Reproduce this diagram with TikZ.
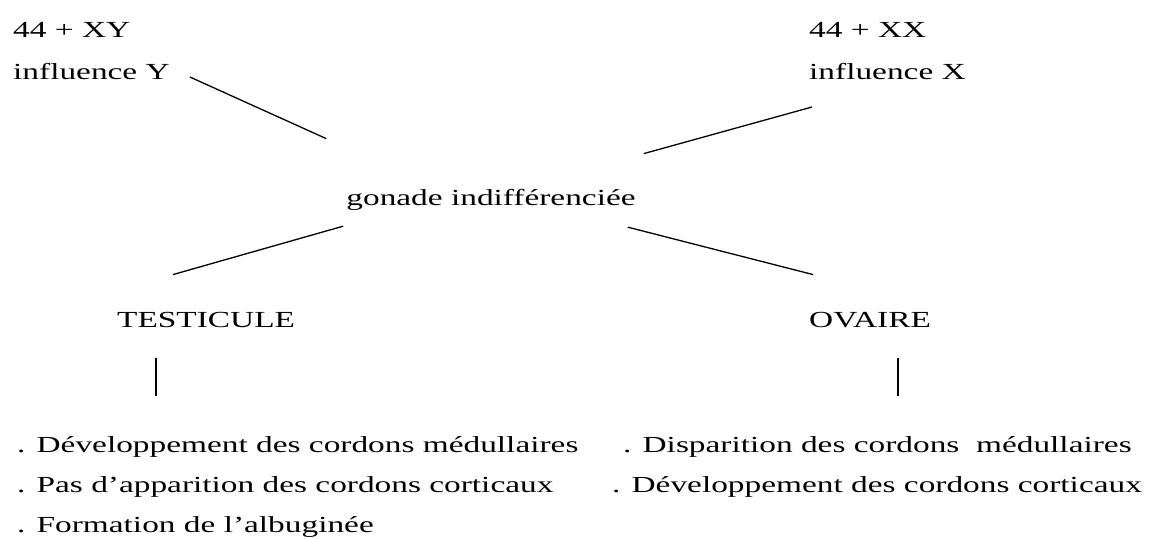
\documentclass[tikz,border=0pt]{standalone}
\usepackage{fontspec}
\setmainfont[FakeStretch=1.45]{Liberation Serif}
\usetikzlibrary{positioning, calc}

\begin{document}
\begin{tikzpicture}[
  x=1pt, y=-1pt,
  font=\fontsize{23}{27}\selectfont,
  lbl/.style={inner sep=0pt, anchor=base west},
  ln/.style={line width=1.3pt}
]
\useasboundingbox (0,0) rectangle (1150,538);
% chromosomes
\node[lbl] (xy)   at (13,37)  {44 + XY};
\node[lbl] (infY) at (13,79)  {influence Y};
\node[lbl] (xx)   at (809,37) {44 + XX};
\node[lbl] (infX) at (809,79) {influence X};
\node[lbl, anchor=base] (gon) at (491,205) {gonade indifférenciée};
\node[lbl] (testi) at (117,327) {TESTICULE};
\node[lbl] (ova)   at (809,327) {OVAIRE};
% caracteres
\node[lbl] (t1) at (17,452) {. Développement des cordons médullaires};
\node[lbl] (t2) at (17,492) {. Pas d’apparition des cordons corticaux};
\node[lbl] (t3) at (17,532) {. Formation de l’albuginée};
\node[lbl] (o1) at (623,452) {. Disparition des cordons\ \ médullaires};
\node[lbl] (o2) at (612,492) {. Développement des cordons corticaux};
\draw[ln] ($(infY.base east)+(20,-2)$) -- ($(gon.north west)+(-20,-50)$);
\draw[ln] ($(infX.base west)+(3,28)$) -- ($(gon.north east)+(8,-35)$);
\draw[ln] ($(testi.north west)+(56,-37)$) -- ($(gon.south west)+(-3,16)$);
\draw[ln] ($(gon.south east)+(-8,17)$) -- ($(ova.north west)+(4,-37)$);
\draw[ln] ($(testi.base west)+(39,31)$) -- ++(0,38);
\draw[ln] ($(ova.base west)+(89,31)$) -- ++(0,38);
\end{tikzpicture}
\end{document}
